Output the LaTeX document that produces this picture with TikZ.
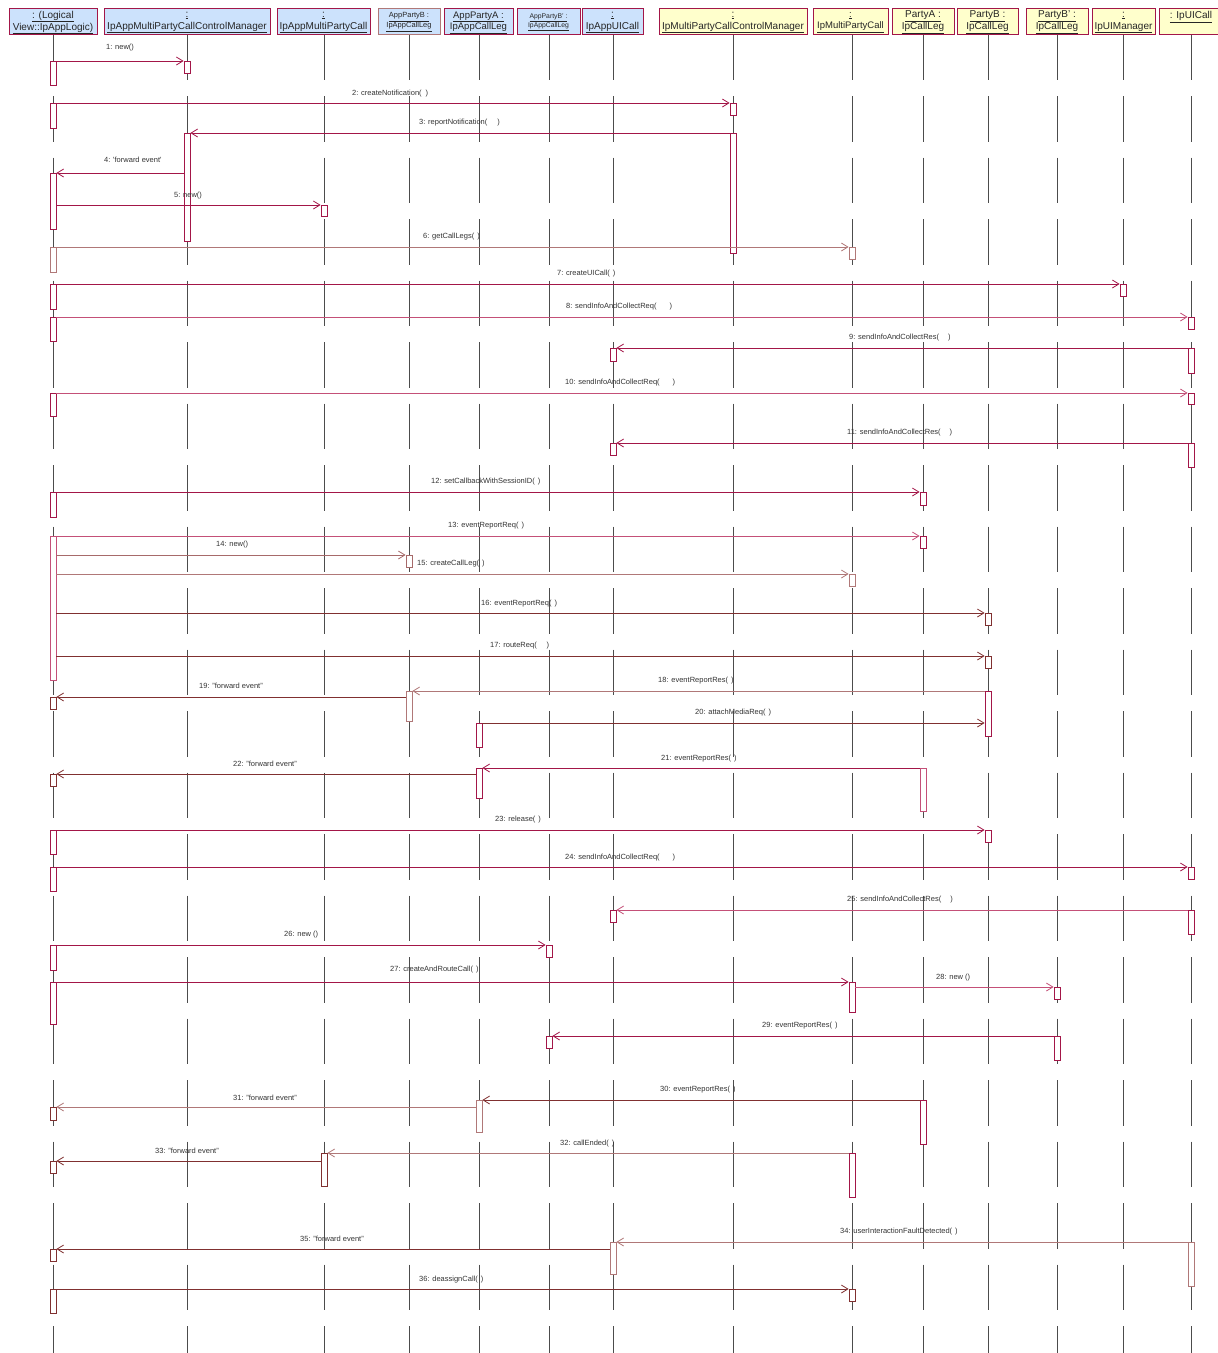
\documentclass[tikz,border=0pt]{standalone}
\usepackage{fontspec}
\setmainfont{Liberation Sans}
\usetikzlibrary{arrows.meta}
\definecolor{crim}{RGB}{163,22,72}
\definecolor{pinkc}{RGB}{196,80,120}
\definecolor{brn}{RGB}{128,48,48}
\definecolor{rosy}{RGB}{176,120,120}
\definecolor{hblue}{RGB}{204,226,252}
\definecolor{hyel}{RGB}{255,255,204}
\newcommand\mygap[1]{\hspace*{#1pt}}
\tikzset{
  hb/.style={draw=crim, line width=1pt, fill=hblue, minimum height=26pt, inner sep=0pt},
  hy/.style={hb, fill=hyel},
  htxt/.style={inner sep=0pt, align=center, font=\fontsize{10}{12}\selectfont, text=black!85},
  life/.style={line width=1pt, black!70, dash pattern=on 45.5pt off 16pt},
  act/.style={fill=white, line width=0.8pt, minimum width=6pt, inner sep=0pt, anchor=north},
  msg/.style={line width=0.9pt, -{Straight Barb[length=6.5pt,width=8pt,line width=0.8pt]}},
  lbl/.style={font=\fontsize{7.5}{8}\selectfont, text=black!80, anchor=west, inner sep=0pt}
}
\begin{document}
\begin{tikzpicture}[x=1pt,y=-1pt]
\useasboundingbox (0,0) rectangle (1218,1353);
\clip (0,0) rectangle (1218,1353);
\fill[white] (0,0) rectangle (1218,1353);

% headers
\node[hb, minimum width=88pt] (h1) at (53,21) {};
\node[htxt] (t1) at ([yshift=-1.5pt]h1.center) {\underline{: (Logical}\\\underline{View::IpAppLogic)}};
\node[hb, minimum width=166pt] (h2) at (187,21) {};
\node[htxt] (t2) at ([yshift=-1.5pt]h2.center) {\underline{:}\\\underline{IpAppMultiPartyCallControlManager}};
\node[hb, minimum width=93pt] (h3) at (323.5,21) {};
\node[htxt] (t3) at ([yshift=-1.5pt]h3.center) {\underline{:}\\\underline{IpAppMultiPartyCall}};
\node[hb, draw=rosy, minimum width=62pt] (h4) at (409,21) {};
\node[htxt, font=\fontsize{7.5}{10}\selectfont] (t4) at ([yshift=-1pt]h4.center) {\underline{AppPartyB :}\\\underline{IpAppCallLeg}};
\node[hb, minimum width=69pt] (h5) at (478.5,21) {};
\node[htxt, font=\fontsize{9.5}{11.5}\selectfont] (t5) at ([yshift=-1.5pt]h5.center) {\underline{AppPartyA :}\\\underline{IpAppCallLeg}};
\node[hb, minimum width=63pt] (h6) at (548.5,21) {};
\node[htxt, font=\fontsize{6.8}{9}\selectfont] (t6) at ([yshift=-1pt]h6.center) {\underline{AppPartyB' :}\\\underline{IpAppCallLeg}};
\node[hb, minimum width=61pt] (h7) at (612.5,21) {};
\node[htxt] (t7) at ([yshift=-1.5pt]h7.center) {\underline{:}\\\underline{IpAppUICall}};
\node[hy, minimum width=148pt] (h8) at (733,21) {};
\node[htxt] (t8) at ([yshift=-1.5pt]h8.center) {\underline{:}\\\underline{IpMultiPartyCallControlManager}};
\node[hy, minimum width=75pt] (h9) at (850.5,21) {};
\node[htxt, font=\fontsize{9.5}{11.5}\selectfont] (t9) at ([yshift=-1.5pt]h9.center) {\underline{:}\\\underline{IpMultiPartyCall}};
\node[hy, minimum width=62pt] (h10) at (923,21) {};
\node[htxt] (t10) at ([yshift=-1.5pt]h10.center) {\underline{PartyA :}\\\underline{IpCallLeg}};
\node[hy, minimum width=61pt] (h11) at (987.5,21) {};
\node[htxt] (t11) at ([yshift=-1.5pt]h11.center) {\underline{PartyB :}\\\underline{IpCallLeg}};
\node[hy, minimum width=62pt] (h12) at (1057,21) {};
\node[htxt] (t12) at ([yshift=-1.5pt]h12.center) {\underline{PartyB' :}\\\underline{IpCallLeg}};
\node[hy, minimum width=63pt] (h13) at (1123.5,21) {};
\node[htxt] (t13) at ([yshift=-1.5pt]h13.center) {\underline{:}\\\underline{IpUIManager}};
\node[hy, minimum width=64pt] (h14) at (1191,21) {};
\node[htxt, anchor=north] (t14) at ([yshift=-4pt]h14.north) {\underline{: IpUICall}};

% lifelines
\foreach \n/\x in {h1/53,h2/187,h3/324,h4/409,h5/479,h6/549,h7/613,h8/733,h9/852,h10/923,h11/988,h12/1057,h13/1123,h14/1191}
  \draw[life] (\n.south -| \x,0) -- (\x,1353);

% 1
\node[act,draw=crim,minimum height=24pt] (A1) at (53,61) {};
\node[act,draw=crim,minimum height=12pt] (B1) at (187,61) {};
\draw[msg,crim] (A1.north east) -- (B1.north west);
\node[lbl] (L1) at (106,48) {1: new()};
% 2
\node[act,draw=crim,minimum height=25pt] (A2) at (53,103) {};
\node[act,draw=crim,minimum height=12pt] (B2) at (733,103) {};
\draw[msg,crim] (A2.north east) -- (B2.north west);
\node[lbl] (L2) at (352,94) {2: createNotification(\mygap{4})};
% 3
\node[act,draw=crim,minimum height=120pt] (B3) at (733,133) {};
\node[act,draw=crim,minimum height=108pt] (C3) at (187,133) {};
\draw[msg,crim] (B3.north west) -- (C3.north east);
\node[lbl] (L3) at (419,123) {3: reportNotification(\mygap{10})};
% 4
\node[act,draw=crim,minimum height=56pt] (A4) at (53,173) {};
\draw[msg,crim] (C3.west |- A4.north) -- (A4.north east);
\node[lbl] (L4) at (104,160) {4: \textquotesingle{}forward event\textquotesingle};
% 5
\node[act,draw=crim,minimum height=11pt] (B5) at (324,205) {};
\draw[msg,crim] (A4.east |- B5.north) -- (B5.north west);
\node[lbl] (L5) at (174,196) {5: new()};
% 6
\node[act,draw=rosy,minimum height=25pt] (A6) at (53,247) {};
\node[act,draw=rosy,minimum height=12pt] (B6) at (852,247) {};
\draw[msg,rosy] (A6.north east) -- (B6.north west);
\node[lbl] (L6) at (423,237) {6: getCallLegs(\mygap{3})};
% 7
\node[act,draw=crim,minimum height=25pt] (A7) at (53,284) {};
\node[act,draw=crim,minimum height=12pt] (B7) at (1123,284) {};
\draw[msg,crim] (A7.north east) -- (B7.north west);
\node[lbl] (L7) at (557,274) {7: createUICall(\mygap{3})};
% 8
\node[act,draw=crim,minimum height=24pt] (A8) at (53,317) {};
\node[act,draw=crim,minimum height=12pt] (B8) at (1191,317) {};
\draw[msg,pinkc] (A8.north east) -- (B8.north west);
\node[lbl] (L8) at (566,307) {8: sendInfoAndCollectReq(\mygap{13})};
% 9
\node[act,draw=crim,minimum height=25pt] (A9) at (1191,348) {};
\node[act,draw=crim,minimum height=13pt] (B9) at (613,348) {};
\draw[msg,crim] (A9.north west) -- (B9.north east);
\node[lbl] (L9) at (849,338) {9: sendInfoAndCollectRes(\mygap{9})};
% 10
\node[act,draw=crim,minimum height=23pt] (A10) at (53,393) {};
\node[act,draw=crim,minimum height=11pt] (B10) at (1191,393) {};
\draw[msg,pinkc] (A10.north east) -- (B10.north west);
\node[lbl] (L10) at (565,383) {10: sendInfoAndCollectReq(\mygap{13})};
% 11
\node[act,draw=crim,minimum height=24pt] (A11) at (1191,443) {};
\node[act,draw=crim,minimum height=12pt] (B11) at (613,443) {};
\draw[msg,crim] (A11.north west) -- (B11.north east);
\node[lbl] (L11) at (847,433) {11: sendInfoAndCollectRes(\mygap{9})};
% 12
\node[act,draw=crim,minimum height=25pt] (A12) at (53,492) {};
\node[act,draw=crim,minimum height=13pt] (B12) at (923,492) {};
\draw[msg,crim] (A12.north east) -- (B12.north west);
\node[lbl] (L12) at (431,482) {12: setCallbackWithSessionID(\mygap{3})};
% 13
\node[act,draw=pinkc,minimum height=144pt] (A13) at (53,536) {};
\node[act,draw=crim,minimum height=12pt] (B13) at (923,536) {};
\draw[msg,pinkc] (A13.north east) -- (B13.north west);
\node[lbl] (L13) at (448,526) {13: eventReportReq(\mygap{3})};
% 14
\node[act,draw=rosy!80!brn,minimum height=12pt] (B14) at (409,555) {};
\draw[msg,rosy!80!brn] (A13.east |- B14.north) -- (B14.north west);
\node[lbl] (L14) at (216,545) {14: new()};
% 15
\node[act,draw=rosy,minimum height=12pt] (B15) at (852,574) {};
\draw[msg,rosy] (A13.east |- B15.north) -- (B15.north west);
\node[lbl] (L15) at (417,564) {15: createCallLeg(\mygap{3})};
% 16
\node[act,draw=brn,minimum height=12pt] (B16) at (988,613) {};
\draw[msg,brn] (A13.east |- B16.north) -- (B16.north west);
\node[lbl] (L16) at (481,604) {16: eventReportReq(\mygap{3})};
% 17
\node[act,draw=brn,minimum height=12pt] (B17) at (988,656) {};
\draw[msg,brn] (A13.east |- B17.north) -- (B17.north west);
\node[lbl] (L17) at (490,646) {17: routeReq(\mygap{10})};
% 18
\node[act,draw=crim,minimum height=45pt] (A18) at (988,691) {};
\node[act,draw=rosy,minimum height=30pt] (B18) at (409,691) {};
\draw[msg,rosy] (A18.north west) -- (B18.north east);
\node[lbl] (L18) at (658,681) {18: eventReportRes(\mygap{3})};
% 19
\node[act,draw=brn,minimum height=12pt] (A19) at (53,697) {};
\draw[msg,brn] (B18.west |- A19.north) -- (A19.north east);
\node[lbl] (L19) at (199,686) {19: "forward event"};
% 20
\node[act,draw=crim,minimum height=24pt] (A20) at (479,723) {};
\draw[msg,brn] (A20.north east) -- (A18.west |- A20.north);
\node[lbl] (L20) at (695,713) {20: attachMediaReq(\mygap{3})};
% 21
\node[act,draw=pinkc,minimum height=43pt] (A21) at (923,768) {};
\node[act,draw=crim,minimum height=30pt] (B21) at (479,768) {};
\draw[msg,crim] (A21.north west) -- (B21.north east);
\node[lbl] (L21) at (661,759) {21: eventReportRes(\mygap{3})};
% 22
\node[act,draw=brn,minimum height=12pt] (A22) at (53,774) {};
\draw[msg,brn] (B21.west |- A22.north) -- (A22.north east);
\node[lbl] (L22) at (233,764) {22: "forward event"};
% 23
\node[act,draw=crim,minimum height=24pt] (A23) at (53,830) {};
\node[act,draw=crim,minimum height=12pt] (B23) at (988,830) {};
\draw[msg,crim] (A23.north east) -- (B23.north west);
\node[lbl] (L23) at (495,820) {23: release(\mygap{3})};
% 24
\node[act,draw=crim,minimum height=24pt] (A24) at (53,867) {};
\node[act,draw=crim,minimum height=12pt] (B24) at (1191,867) {};
\draw[msg,crim] (A24.north east) -- (B24.north west);
\node[lbl] (L24) at (565,858) {24: sendInfoAndCollectReq(\mygap{13})};
% 25
\node[act,draw=crim,minimum height=24pt] (A25) at (1191,910) {};
\node[act,draw=crim,minimum height=12pt] (B25) at (613,910) {};
\draw[msg,pinkc] (A25.north west) -- (B25.north east);
\node[lbl] (L25) at (847,900) {25: sendInfoAndCollectRes(\mygap{9})};
% 26
\node[act,draw=crim,minimum height=25pt] (A26) at (53,945) {};
\node[act,draw=crim,minimum height=12pt] (B26) at (549,945) {};
\draw[msg,crim] (A26.north east) -- (B26.north west);
\node[lbl] (L26) at (284,935) {26: new ()};
% 27
\node[act,draw=crim,minimum height=42pt] (A27) at (53,982) {};
\node[act,draw=crim,minimum height=30pt] (B27) at (852,982) {};
\draw[msg,crim] (A27.north east) -- (B27.north west);
\node[lbl] (L27) at (390,970) {27: createAndRouteCall(\mygap{3})};
% 28
\node[act,draw=crim,minimum height=12pt] (B28) at (1057,987) {};
\draw[msg,pinkc] (B27.east |- B28.north) -- (B28.north west);
\node[lbl] (L28) at (936,978) {28: new ()};
% 29
\node[act,draw=crim,minimum height=24pt] (A29) at (1057,1036) {};
\node[act,draw=crim,minimum height=12pt] (B29) at (549,1036) {};
\draw[msg,crim] (A29.north west) -- (B29.north east);
\node[lbl] (L29) at (762,1026) {29: eventReportRes(\mygap{3})};
% 30
\node[act,draw=crim,minimum height=44pt] (A30) at (923,1100) {};
\node[act,draw=rosy,minimum height=32pt] (B30) at (479,1100) {};
\draw[msg,brn] (A30.north west) -- (B30.north east);
\node[lbl] (L30) at (660,1090) {30: eventReportRes(\mygap{3})};
% 31
\node[act,draw=brn,minimum height=13pt] (A31) at (53,1107) {};
\draw[msg,rosy] (B30.west |- A31.north) -- (A31.north east);
\node[lbl] (L31) at (233,1098) {31: "forward event"};
% 32
\node[act,draw=crim,minimum height=44pt] (A32) at (852,1153) {};
\node[act,draw=brn,minimum height=33pt] (B32) at (324,1153) {};
\draw[msg,rosy] (A32.north west) -- (B32.north east);
\node[lbl] (L32) at (560,1144) {32: callEnded(\mygap{3})};
% 33
\node[act,draw=brn,minimum height=12pt] (A33) at (53,1161) {};
\draw[msg,brn] (B32.west |- A33.north) -- (A33.north east);
\node[lbl] (L33) at (155,1151) {33: "forward event"};
% 34
\node[act,draw=rosy,minimum height=44pt] (A34) at (1191,1242) {};
\node[act,draw=rosy,minimum height=32pt] (B34) at (613,1242) {};
\draw[msg,rosy] (A34.north west) -- (B34.north east);
\node[lbl] (L34) at (840,1232) {34: userInteractionFaultDetected(\mygap{3})};
% 35
\node[act,draw=brn,minimum height=12pt] (A35) at (53,1249) {};
\draw[msg,brn] (B34.west |- A35.north) -- (A35.north east);
\node[lbl] (L35) at (300,1239) {35: "forward event"};
% 36
\node[act,draw=brn,minimum height=24pt] (A36) at (53,1289) {};
\node[act,draw=brn,minimum height=12pt] (B36) at (852,1289) {};
\draw[msg,brn] (A36.north east) -- (B36.north west);
\node[lbl] (L36) at (419,1280) {36: deassignCall(\mygap{3})};
\end{tikzpicture}
\end{document}
